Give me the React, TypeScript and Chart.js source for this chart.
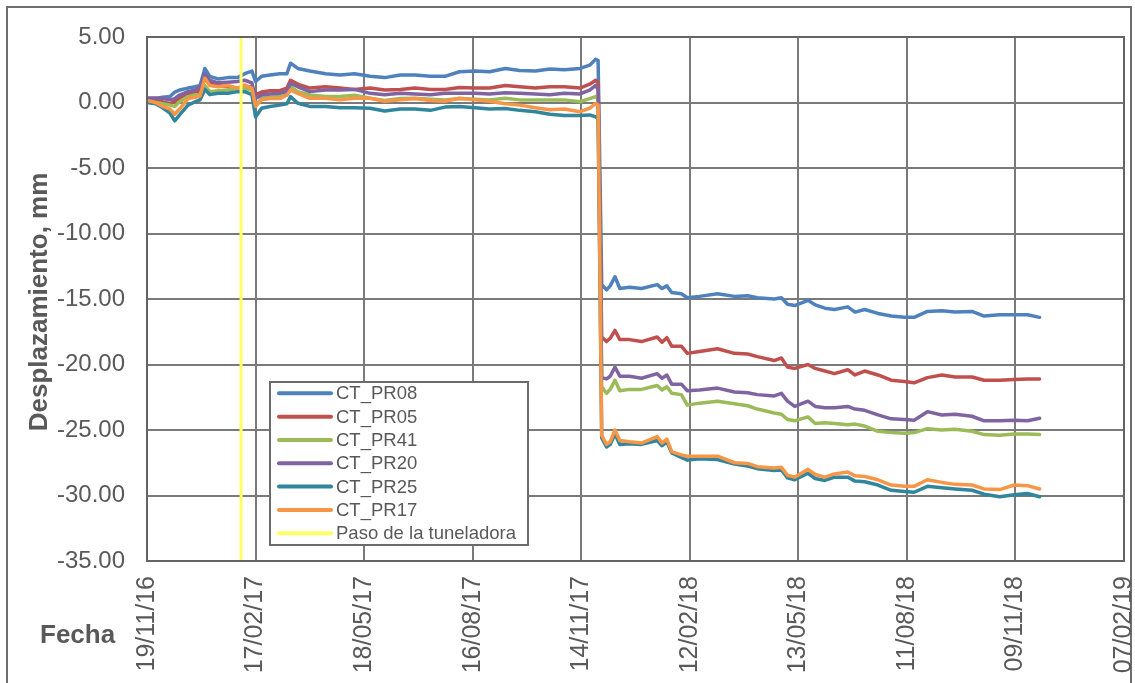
import React, { useEffect, useRef } from "react";
import { Chart, registerables } from "chart.js";

Chart.register(...registerables);

const tickLabels = ["19/11/16", "17/02/17", "18/05/17", "16/08/17", "14/11/17", "12/02/18", "13/05/18", "11/08/18", "09/11/18", "07/02/19"];

const dates = [
  "19/11/16", "26/11/16", "02/12/16", "08/12/16", "12/12/16", "16/12/16", "23/12/16", "29/12/16", "02/01/17", "06/01/17",
  "10/01/17", "17/01/17", "25/01/17", "02/02/17", "08/02/17", "14/02/17", "17/02/17", "22/02/17", "01/03/17", "09/03/17",
  "15/03/17", "18/03/17", "24/03/17", "03/04/17", "16/04/17", "28/04/17", "10/05/17", "23/05/17", "04/06/17", "17/06/17",
  "29/06/17", "12/07/17", "24/07/17", "05/08/17", "18/08/17", "30/08/17", "12/09/17", "24/09/17", "07/10/17", "19/10/17",
  "31/10/17", "13/11/17", "21/11/17", "26/11/17", "28/11/17",
  "01/12/17", "05/12/17", "08/12/17", "12/12/17", "16/12/17", "24/12/17", "03/01/18", "16/01/18", "20/01/18", "24/01/18",
  "28/01/18", "05/02/18", "10/02/18", "20/02/18", "07/03/18", "21/03/18", "01/04/18", "09/04/18", "23/04/18", "29/04/18",
  "04/05/18", "10/05/18", "21/05/18", "27/05/18", "04/06/18", "12/06/18", "23/06/18", "29/06/18", "07/07/18", "18/07/18",
  "29/07/18", "09/08/18", "17/08/18", "28/08/18", "09/09/18", "20/09/18", "04/10/18", "14/10/18", "27/10/18", "08/11/18",
  "19/11/18", "29/11/18",
];

const pr08 = [
  0.3, 0.3, 0.4, 0.45, 0.8, 0.95, 1.1, 1.2, 1.3, 2.6, 2.0, 1.8, 1.9, 1.9, 2.2, 2.4, 1.6, 2.0, 2.1, 2.2,
  2.2, 3.0, 2.6, 2.4, 2.2, 2.1, 2.2, 2.0, 1.9, 2.1, 2.1, 2.0, 2.0, 2.35, 2.4, 2.35, 2.6, 2.45, 2.4, 2.55,
  2.5, 2.6, 2.85, 3.3, 3.2,
  -13.9, -14.3, -14.0, -13.3, -14.2, -14.1, -14.2, -13.9, -14.2, -14.0, -14.5, -14.6, -14.9, -14.8, -14.6, -14.8,
  -14.75, -14.9, -15.0, -14.9, -15.4, -15.5, -15.1, -15.45, -15.7, -15.8, -15.6, -16.0, -15.8, -16.1, -16.3, -16.4,
  -16.4, -15.95, -15.9, -16.0, -15.95, -16.3, -16.2, -16.2, -16.2, -16.4,
];

const pr05 = [
  0.2, 0.15, 0.05, -0.1, 0.1, 0.3, 0.6, 0.8, 0.9, 1.9, 1.6, 1.3, 1.2, 1.1, 1.2, 1.2, 0.6, 0.8, 0.9, 0.9,
  1.1, 1.7, 1.4, 1.1, 1.2, 1.1, 1.0, 1.1, 0.95, 1.0, 1.1, 1.0, 1.0, 1.15, 1.1, 1.1, 1.3, 1.2, 1.1, 1.2,
  1.2, 1.1, 1.4, 1.7, 1.5,
  -17.9, -18.25, -18.0, -17.4, -18.1, -18.1, -18.25, -17.9, -18.3, -17.95, -18.6, -18.6, -19.15, -19.0, -18.8, -19.15,
  -19.2, -19.4, -19.7, -19.5, -20.2, -20.3, -20.0, -20.3, -20.5, -20.7, -20.4, -20.8, -20.5, -20.8, -21.2, -21.3,
  -21.4, -21.0, -20.8, -20.95, -20.95, -21.2, -21.2, -21.15, -21.1, -21.1,
];

const pr41 = [
  0.1, 0.0, -0.1, -0.2, -0.3, 0.06, 0.45, 0.6, 0.6, 1.3, 0.83, 0.9, 0.95, 1.09, 1.09, 0.95, -0.2, 0.3, 0.4, 0.45,
  0.57, 1.2, 0.83, 0.57, 0.45, 0.45, 0.55, 0.32, 0.15, 0.3, 0.32, 0.25, 0.2, 0.3, 0.25, 0.2, 0.32, 0.2, 0.2, 0.2,
  0.2, 0.06, 0.3, 0.45, 0.3,
  -21.7, -22.2, -21.9, -21.2, -22.0, -21.9, -21.9, -21.6, -21.95, -21.7, -22.2, -22.3, -23.1, -22.95, -22.8, -23.0,
  -23.15, -23.4, -23.7, -23.8, -24.2, -24.3, -24.0, -24.5, -24.45, -24.5, -24.6, -24.55, -24.7, -25.1, -25.2, -25.25,
  -25.2, -24.9, -25.0, -24.95, -25.1, -25.35, -25.4, -25.3, -25.3, -25.35,
];

const pr20 = [
  0.35, 0.35, 0.3, 0.2, 0.3, 0.57, 0.83, 0.95, 1.2, 2.2, 1.7, 1.5, 1.55, 1.6, 1.7, 1.5, 0.3, 0.57, 0.65, 0.7,
  0.83, 1.46, 1.2, 0.83, 0.95, 0.95, 1.0, 0.7, 0.6, 0.7, 0.65, 0.6, 0.7, 0.7, 0.7, 0.65, 0.75, 0.7, 0.65, 0.6,
  0.7, 0.65, 0.95, 1.3, 1.0,
  -21.0, -21.1, -20.9, -20.2, -20.9, -20.9, -21.05, -20.7, -21.05, -20.8, -21.5, -21.5, -22.0, -21.95, -21.8, -22.1,
  -22.15, -22.3, -22.4, -22.2, -22.8, -23.2, -22.8, -23.2, -23.3, -23.3, -23.2, -23.4, -23.5, -23.85, -24.15, -24.2,
  -24.25, -23.6, -23.85, -23.8, -23.95, -24.3, -24.3, -24.25, -24.3, -24.1,
];

const pr25 = [
  0.0, -0.1, -0.4, -0.8, -1.4, -0.95, -0.2, 0.06, 0.2, 1.0, 0.6, 0.7, 0.7, 0.83, 0.83, 0.6, -1.1, -0.44, -0.3, -0.2,
  -0.1, 0.45, -0.06, -0.3, -0.3, -0.4, -0.4, -0.44, -0.65, -0.5, -0.5, -0.6, -0.35, -0.3, -0.4, -0.5, -0.45, -0.6, -0.7, -0.9,
  -1.0, -1.0, -0.95, -1.1, -1.2,
  -25.6, -26.3, -26.1, -25.3, -26.1, -26.05, -26.1, -25.8, -26.2, -25.9, -26.75, -27.1, -27.3, -27.2, -27.25, -27.6,
  -27.75, -27.95, -28.1, -28.05, -28.65, -28.8, -28.3, -28.7, -28.85, -28.6, -28.6, -28.9, -28.95, -29.2, -29.6, -29.7,
  -29.75, -29.3, -29.4, -29.5, -29.6, -29.9, -30.1, -29.95, -29.85, -30.1,
];

const pr17 = [
  0.15, 0.0, -0.3, -0.5, -0.9, -0.5, 0.3, 0.4, 0.5, 1.85, 1.3, 1.2, 1.3, 1.1, 1.34, 1.09, -0.3, 0.2, 0.3, 0.3,
  0.57, 0.95, 0.7, 0.32, 0.32, 0.2, 0.32, 0.32, 0.1, 0.2, 0.3, 0.15, 0.1, 0.32, 0.2, 0.1, -0.1, -0.2, -0.4, -0.55,
  -0.5, -0.7, -0.44, -0.06, -0.2,
  -25.4, -26.1, -25.9, -25.0, -25.8, -25.9, -26.0, -25.5, -26.0, -25.7, -26.65, -26.9, -27.0, -27.0, -27.0, -27.5,
  -27.55, -27.8, -27.9, -27.85, -28.45, -28.6, -28.0, -28.4, -28.6, -28.35, -28.2, -28.5, -28.55, -28.8, -29.2, -29.3,
  -29.3, -28.8, -29.0, -29.15, -29.2, -29.5, -29.55, -29.2, -29.25, -29.5,
];

const tbmDate = "05/02/17";
const yMin = -35;
const yMax = 5;

const seriesNames = ["CT_PR08", "CT_PR05", "CT_PR41", "CT_PR20", "CT_PR25", "CT_PR17"];
const seriesValues = [pr08, pr05, pr41, pr20, pr25, pr17];
const seriesColors = ["#4F81BD", "#C0504D", "#9BBB59", "#8064A2", "#31859C", "#F79646"];
const tbmName = "Paso de la tuneladora";
const tbmColor = "#FFFF66";

const FONT = "'Liberation Sans', Arial, sans-serif";
const TEXT = "#595959";

function dayIndex(s: string): number {
  const [d, m, y] = s.split("/").map(Number);
  const base = Date.UTC(2016, 10, 19);
  return Math.round((Date.UTC(2000 + y, m - 1, d) - base) / 86400000);
}

const decorPlugin = {
  id: "decor",
  afterDraw(chart: any) {
    const ctx = chart.ctx;
    const ca = chart.chartArea;
    ctx.save();
    ctx.strokeStyle = "#646464";
    ctx.lineWidth = 2;
    ctx.strokeRect(ca.left, ca.top, ca.right - ca.left, ca.bottom - ca.top);

    ctx.fillStyle = TEXT;
    ctx.font = `bold 26px ${FONT}`;
    ctx.save();
    ctx.translate(47, 302);
    ctx.rotate(-Math.PI / 2);
    ctx.textAlign = "center";
    ctx.textBaseline = "alphabetic";
    ctx.fillText("Desplazamiento, mm", 0, 0);
    ctx.restore();

    ctx.textAlign = "left";
    ctx.textBaseline = "alphabetic";
    ctx.fillText("Fecha", 40, 643);

    const lx = 270, ly = 382, lw = 258, lh = 163;
    ctx.fillStyle = "#ffffff";
    ctx.fillRect(lx, ly, lw, lh);
    ctx.strokeStyle = "#6b6b6b";
    ctx.lineWidth = 2;
    ctx.strokeRect(lx, ly, lw, lh);
    const names = [...seriesNames, tbmName];
    const colors = [...seriesColors, tbmColor];
    ctx.font = `18.5px ${FONT}`;
    ctx.textBaseline = "middle";
    names.forEach((n, i) => {
      const y = 393.3 + i * 23.33;
      ctx.strokeStyle = colors[i];
      ctx.lineWidth = 4;
      ctx.lineCap = "round";
      ctx.beginPath();
      ctx.moveTo(279, y);
      ctx.lineTo(331, y);
      ctx.stroke();
      ctx.fillStyle = TEXT;
      ctx.fillText(n, 336, y + 1);
    });
    ctx.restore();
  },
};

export default function App() {
  const ref = useRef<HTMLCanvasElement>(null);

  useEffect(() => {
    if (!ref.current) return;
    const xs = dates.map(dayIndex);
    const datasets: any[] = seriesValues.map((vals, i) => ({
      label: seriesNames[i],
      data: vals.map((v, j) => ({ x: xs[j], y: v })),
      borderColor: seriesColors[i],
      backgroundColor: seriesColors[i],
      borderWidth: 3.5,
      pointRadius: 0,
      tension: 0,
      borderJoinStyle: "round",
      borderCapStyle: "round",
      order: 20 - i,
    }));
    const tx = dayIndex(tbmDate);
    datasets.push({
      label: tbmName,
      data: [
        { x: tx, y: yMin },
        { x: tx, y: yMax },
      ],
      borderColor: tbmColor,
      backgroundColor: tbmColor,
      borderWidth: 3,
      pointRadius: 0,
      order: 1,
    });

    const chart = new Chart(ref.current, {
      type: "line",
      data: { datasets },
      plugins: [decorPlugin],
      options: {
        animation: false,
        responsive: true,
        maintainAspectRatio: false,
        layout: { padding: { top: 37, right: 11, left: 0, bottom: 0 } },
        plugins: { legend: { display: false }, tooltip: { enabled: false }, title: { display: false } },
        scales: {
          x: {
            type: "linear",
            min: 0,
            max: 810,
            afterBuildTicks: (scale: any) => {
              scale.ticks = tickLabels.map((_, i) => ({ value: i * 90 }));
            },
            afterFit: (scale: any) => {
              scale.height = 122;
              scale.paddingLeft = 0;
              scale.paddingRight = 0;
            },
            ticks: {
              autoSkip: false,
              minRotation: 90,
              maxRotation: 90,
              padding: 15,
              color: TEXT,
              font: { size: 25, family: FONT },
              callback: (_v: any, i: number) => tickLabels[i],
            },
            grid: { color: "#7a7a7a", lineWidth: 2, drawTicks: false },
            border: { color: "#646464", width: 2 },
          },
          y: {
            type: "linear",
            min: yMin,
            max: yMax,
            afterFit: (scale: any) => {
              scale.width = 147;
              scale.paddingTop = 0;
              scale.paddingBottom = 0;
            },
            ticks: {
              stepSize: 5,
              padding: 22,
              color: TEXT,
              font: { size: 24, family: FONT },
              callback: (v: any) => Number(v).toFixed(2),
            },
            grid: { color: "#7a7a7a", lineWidth: 2, drawTicks: false },
            border: { color: "#646464", width: 2 },
          },
        },
      },
    });
    return () => chart.destroy();
  }, []);

  return (
    <div style={{ position: "fixed", left: 0, top: 0, width: 1135, height: 683, background: "#fff" }}>
      <div
        style={{
          position: "absolute",
          left: 6,
          top: 6,
          width: 1126,
          height: 700,
          border: "2px solid #6e6e6e",
          boxSizing: "border-box",
          pointerEvents: "none",
        }}
      />
      <canvas ref={ref} style={{ position: "absolute", left: 0, top: 0 }} />
    </div>
  );
}
